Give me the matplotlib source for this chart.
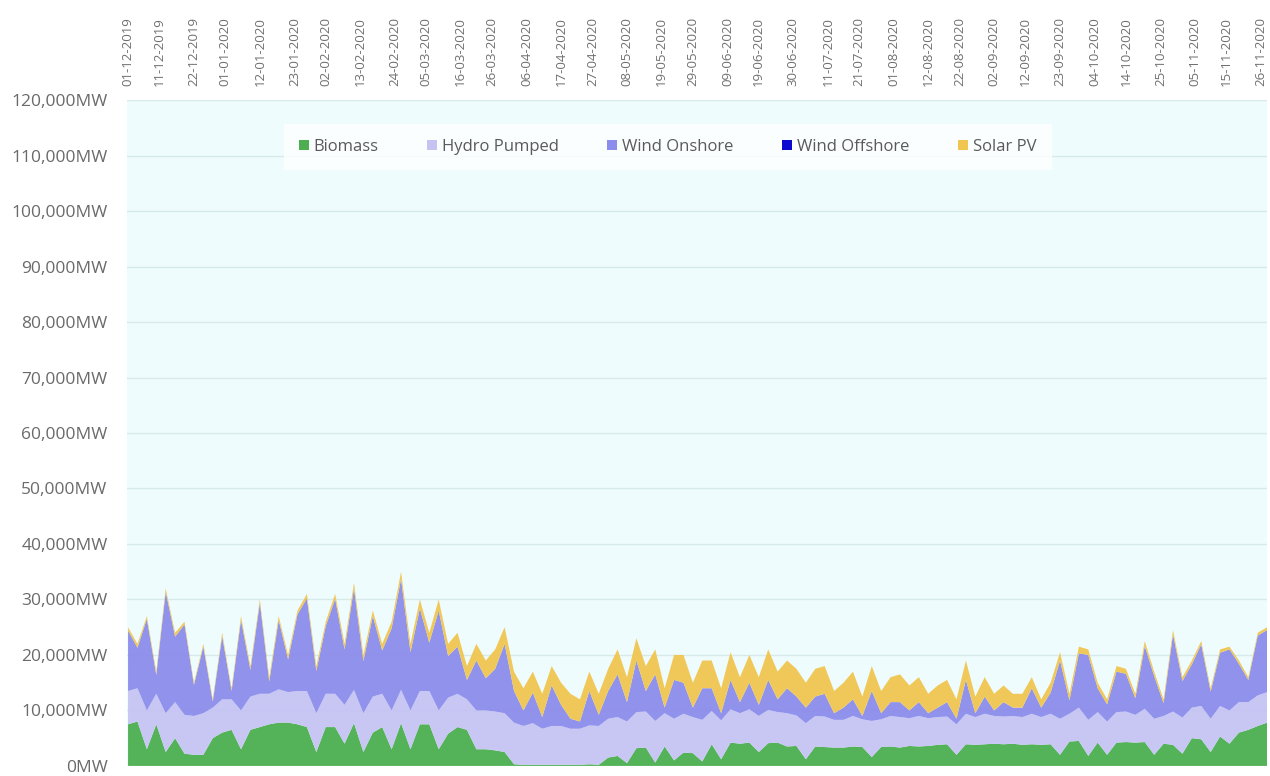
import numpy as np
import pandas as pd
import matplotlib
matplotlib.use("Agg")
import matplotlib.pyplot as plt
from matplotlib.patches import Patch
from matplotlib.ticker import FuncFormatter

plt.rcParams['font.family'] = ['Open Sans', 'DejaVu Sans']

# one reading every 3 days from 01-12-2019, values in thousand MW
dates = pd.date_range("2019-12-01", periods=122, freq="3D")

biomass = [7.5, 8, 3, 7.5, 2.5, 5, 2.2, 2, 2, 5, 6, 6.5, 3, 6.5, 7, 7.5, 7.8, 7.8, 7.5, 7,
           2.5, 7, 7, 4, 7.7, 2.5, 6, 7, 3, 7.7, 3, 7.5, 7.5, 3, 5.8, 7, 6.5, 3, 3, 2.8,
           2.5, 0.3, 0.2, 0.2, 0.2, 0.2, 0.2, 0.2, 0.2, 0.3, 0.2, 1.5, 1.8, 0.5, 3.2, 3.3, 0.6, 3.5, 1.0, 2.4,
           2.3, 0.8, 3.9, 1.2, 4.2, 4.0, 4.2, 2.5, 4.1, 4.2, 3.5, 3.6, 1.2, 3.5, 3.4, 3.3, 3.3, 3.5, 3.4, 1.6,
           3.4, 3.5, 3.3, 3.6, 3.5, 3.6, 3.8, 3.9, 2.0, 3.9, 3.8, 3.9, 4.0, 3.9, 4.0, 3.8, 3.9, 3.8, 3.9, 2.0,
           4.4, 4.5, 1.8, 4.2, 2.0, 4.2, 4.3, 4.2, 4.3, 2.0, 4.0, 3.8, 2.2, 5.0, 4.8, 2.5, 5.3, 4.0, 6.0, 6.5,
           7.2, 7.8]
hydro_pumped = [6, 6, 7, 5.5, 7, 6.5, 7, 7, 7.5, 5.5, 6, 5.5, 7, 6, 6, 5.5, 6, 5.5, 6, 6.5,
                7, 6, 6, 7, 6, 7, 6.5, 6, 7, 6, 7, 6, 6, 7, 6.5, 6, 5.5, 7, 7, 7,
                7, 7.5, 7, 7.5, 6.5, 7, 7, 6.5, 6.5, 7, 7, 7, 7, 7.5, 6.5, 6.5, 7.5, 6, 7.5, 7,
                6.5, 7.5, 6, 7, 6, 5.5, 6, 6.5, 6, 5.5, 6, 5.5, 6.5, 5.5, 5.5, 5, 5, 5.5, 5, 6.5,
                5, 5.5, 5.5, 5, 5.5, 5, 5, 5, 5.5, 5.5, 5, 5.5, 5, 5, 5, 5, 5.5, 5, 5.5, 6.5,
                5, 6, 6.5, 5.5, 6, 5.5, 5.5, 5, 6, 6.5, 5, 6, 6.5, 5.5, 6, 6, 5.5, 6, 5.5, 5,
                5.5, 5.5]
wind_onshore = [10.9, 7.3, 16.5, 3.4, 21.9, 11.8, 16.3, 5.6, 12, 1.1, 11.4, 1.5, 16.3, 4.8, 16.4, 2.2, 12.5, 5.9, 13.8, 16.7,
                7.6, 12.2, 17.1, 10, 18.3, 9.4, 14.5, 7.8, 14.8, 20, 10.5, 14.9, 8.7, 18, 7.5, 8.5, 3.5, 9, 5.8, 7.7,
                12.5, 5.7, 2.8, 5.5, 2.1, 7.3, 3.8, 1.8, 1.3, 6.2, 2.0, 5, 7.7, 3.5, 9.3, 3.7, 8.4, 1.0, 7.0, 5.6,
                1.7, 5.7, 4.1, 1.3, 5.3, 2, 4.8, 2, 5.4, 2.3, 4.5, 3.4, 2.8, 3.5, 4.1, 1.2, 2.2, 3, 0.6, 5.4,
                1.1, 2.5, 2.7, 1.4, 2.5, 0.9, 1.7, 2.6, 1.0, 6.1, 0.7, 3.1, 1.0, 2.6, 1.5, 1.7, 4.6, 1.7, 3.8, 10.5,
                2.4, 9.8, 11.7, 4.3, 3.1, 7.3, 6.8, 3, 11.3, 7.7, 2.3, 13.9, 6.6, 7.8, 11.1, 4.9, 9.6, 11, 6.9, 4,
                10.8, 11.2]
wind_offshore = [0] * len(dates)
solar_pv = [0.6, 0.7, 0.5, 0.6, 0.6, 0.7, 0.5, 0.4, 0.5, 0.4, 0.6, 0.5, 0.7, 0.7, 0.6, 0.8, 0.7, 0.8, 0.7, 0.8,
            0.9, 0.8, 0.9, 1.0, 1.0, 1.1, 1.0, 1.2, 1.2, 1.3, 1.5, 1.6, 1.8, 2.0, 2.2, 2.5, 2.5, 3.0, 3.2, 3.5,
            3.0, 3.5, 4.0, 3.8, 4.2, 3.5, 4.0, 4.5, 4.0, 3.5, 3.8, 4.0, 4.5, 4.5, 4.0, 4.5, 4.5, 3.5, 4.5, 5.0,
            4.5, 5.0, 5.0, 4.5, 5.0, 4.5, 5.0, 5.0, 5.5, 5.0, 5.0, 5.0, 4.5, 5.0, 5.0, 4.0, 4.5, 5.0, 3.5, 4.5,
            4.0, 4.5, 5.0, 4.5, 4.5, 3.5, 4.0, 4.0, 3.5, 3.5, 3.0, 3.5, 3.0, 3.0, 2.5, 2.5, 2.0, 1.5, 1.8, 1.5,
            1.2, 1.2, 1.0, 1.0, 0.9, 1.0, 0.9, 0.8, 0.9, 0.8, 0.7, 0.8, 0.7, 0.7, 0.6, 0.6, 0.6, 0.5, 0.6, 0.5,
            0.5, 0.5]

series_names = ["Biomass", "Hydro Pumped", "Wind Onshore", "Wind Offshore", "Solar PV"]
colors = ["#4cae50", "#c6c3f3", "#8c8cec", "#0a0ad0", "#f0c650"]

tick_labels = ["01-12-2019", "11-12-2019", "22-12-2019", "01-01-2020", "12-01-2020", "23-01-2020",
               "02-02-2020", "13-02-2020", "24-02-2020", "05-03-2020", "16-03-2020", "26-03-2020",
               "06-04-2020", "17-04-2020", "27-04-2020", "08-05-2020", "19-05-2020", "29-05-2020",
               "09-06-2020", "19-06-2020", "30-06-2020", "11-07-2020", "21-07-2020", "01-08-2020",
               "12-08-2020", "22-08-2020", "02-09-2020", "12-09-2020", "23-09-2020", "04-10-2020",
               "14-10-2020", "25-10-2020", "05-11-2020", "15-11-2020", "26-11-2020"]

fig = plt.figure(figsize=(12.7, 7.76), dpi=100)
ax = fig.add_axes([0.1, 0.013, 0.898, 0.858])
ax.set_facecolor("#effcfd")

stack = [np.array(s) * 1000 for s in [biomass, hydro_pumped, wind_onshore, wind_offshore, solar_pv]]
ax.stackplot(dates, *stack, colors=colors, linewidth=0, alpha=0.95)

ax.set_ylim(0, 120000)
ax.set_yticks(range(0, 120001, 10000))
ax.yaxis.set_major_formatter(FuncFormatter(lambda v, p: f"{int(v):,}MW"))
ax.grid(axis="y", color="#d6eaea", linewidth=1)
ax.set_axisbelow(True)

ax.set_xlim(dates[0] - pd.Timedelta(hours=8), dates[0] + pd.Timedelta(days=363.1))
ax.xaxis.tick_top()
ax.set_xticks(pd.to_datetime(tick_labels, format="%d-%m-%Y"))
ax.set_xticklabels(tick_labels, rotation=90, fontsize=9.5, color="#707070")
ax.tick_params(axis="x", length=0, pad=10)
ax.tick_params(axis="y", length=0, pad=14, labelsize=12.5, labelcolor="#6a6a6a")
for s in ax.spines.values():
    s.set_visible(False)

handles = [Patch(facecolor=c, edgecolor="none") for c in colors]
leg = ax.legend(handles, series_names, ncol=5, loc="center", mode="expand",
                bbox_to_anchor=(0.13, 0.893, 0.688, 0.074), frameon=True, fancybox=False,
                handlelength=0.6, handleheight=0.6, handletextpad=0.3,
                fontsize=12, labelcolor="#5a5a5a", borderpad=0.9)
leg.get_frame().set_facecolor("white")
leg.get_frame().set_edgecolor("none")

fig.savefig("out.png", dpi=100)
